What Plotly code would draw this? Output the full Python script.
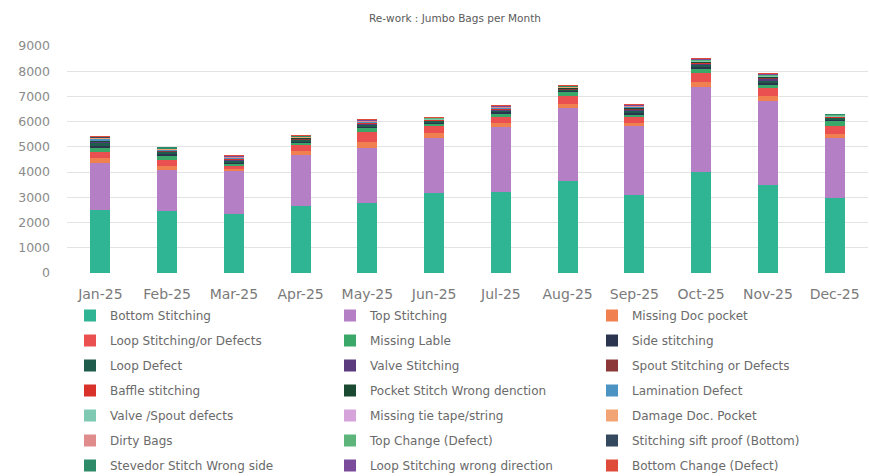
import plotly.graph_objects as go

months = ["Jan-25", "Feb-25", "Mar-25", "Apr-25", "May-25", "Jun-25",
          "Jul-25", "Aug-25", "Sep-25", "Oct-25", "Nov-25", "Dec-25"]

bottom_stitching = [2480, 2450, 2350, 2640, 2780, 3170, 3200, 3630, 3100, 3990, 3500, 2960]
top_stitching = [1900, 1640, 1700, 2040, 2170, 2180, 2580, 2900, 2710, 3380, 3300, 2390]
missing_doc_pocket = [170, 160, 80, 160, 260, 190, 170, 190, 150, 220, 210, 180]
loop_stitching_defects = [250, 250, 120, 240, 400, 290, 250, 300, 220, 330, 320, 280]
missing_lable = [180, 170, 80, 90, 150, 90, 130, 160, 120, 200, 150, 250]
side_stitching = [70, 40, 50, 40, 40, 40, 40, 20, 50, 40, 60, 10]
loop_defect = [130, 110, 80, 70, 90, 70, 90, 80, 110, 110, 100, 90]
valve_stitching = [20, 10, 30, 20, 20, 10, 20, 10, 30, 20, 60, 10]
spout_stitching = [20, 10, 20, 20, 20, 20, 20, 10, 30, 20, 40, 10]
baffle_stitching = [10, 10, 10, 10, 20, 10, 10, 10, 10, 20, 20, 10]
pocket_stitch_wrong = [40, 20, 30, 30, 30, 20, 30, 30, 50, 60, 40, 20]
lamination_defect = [60, 20, 10, 10, 10, 10, 10, 10, 10, 10, 10, 10]
valve_spout_defects = [10, 10, 10, 10, 10, 10, 10, 10, 10, 10, 10, 10]
missing_tie_tape = [10, 10, 10, 10, 10, 10, 10, 10, 10, 10, 10, 10]
damage_doc_pocket = [10, 10, 10, 10, 10, 10, 10, 10, 10, 10, 10, 10]
dirty_bags = [10, 10, 10, 10, 10, 10, 10, 10, 10, 10, 10, 10]
top_change = [20, 10, 10, 10, 10, 10, 10, 10, 10, 20, 10, 10]
sift_proof_bottom = [10, 10, 10, 10, 10, 10, 10, 10, 10, 10, 10, 10]
stevedor_wrong_side = [10, 10, 10, 10, 10, 0, 10, 10, 10, 10, 10, 10]
loop_wrong_direction = [10, 0, 10, 10, 10, 0, 10, 0, 10, 10, 10, 0]
bottom_change = [10, 0, 10, 10, 10, 10, 10, 10, 10, 10, 10, 0]

series = [
    ("Bottom Stitching", bottom_stitching, "#2fb593"),
    ("Top Stitching", top_stitching, "#b47fc4"),
    ("Missing Doc pocket", missing_doc_pocket, "#f0804f"),
    ("Loop Stitching/or Defects", loop_stitching_defects, "#ea5050"),
    ("Missing Lable", missing_lable, "#3aa868"),
    ("Side stitching", side_stitching, "#2b3550"),
    ("Loop Defect", loop_defect, "#1f5c4c"),
    ("Valve Stitching", valve_stitching, "#5c3a7e"),
    ("Spout Stitching or Defects", spout_stitching, "#8c3838"),
    ("Baffle stitching", baffle_stitching, "#d8322a"),
    ("Pocket Stitch Wrong denction", pocket_stitch_wrong, "#1b4a32"),
    ("Lamination Defect", lamination_defect, "#4b93c2"),
    ("Valve /Spout defects", valve_spout_defects, "#7fc8b2"),
    ("Missing tie tape/string", missing_tie_tape, "#d6a3da"),
    ("Damage Doc. Pocket", damage_doc_pocket, "#f2a474"),
    ("Dirty Bags", dirty_bags, "#e08c8c"),
    ("Top Change (Defect)", top_change, "#5db57c"),
    ("Stitching sift proof (Bottom)", sift_proof_bottom, "#34495e"),
    ("Stevedor Stitch Wrong side", stevedor_wrong_side, "#2e8b6a"),
    ("Loop Stitching wrong direction", loop_wrong_direction, "#7b4b9b"),
    ("Bottom Change (Defect)", bottom_change, "#e04a3a"),
]

# three legend columns, filled row by row
legend_names = ["legend", "legend2", "legend3"]

fig = go.Figure()
for i, (name, vals, color) in enumerate(series):
    fig.add_trace(go.Bar(
        x=months, y=vals, name=name,
        marker=dict(color=color, line=dict(width=0)),
        legend=legend_names[i % 3],
        legendgroup=name,
    ))

FONT = "DejaVu Sans, sans-serif"
legend_font = dict(family=FONT, size=12, color="#6a6a6a")
legend_common = dict(
    orientation="v", font=legend_font, bgcolor="rgba(0,0,0,0)",
    tracegroupgap=6, itemwidth=30, yref="container", yanchor="top",
    y=1 - 301/476, xref="container", xanchor="left", traceorder="grouped",
)

fig.update_layout(
    width=869, height=476,
    margin=dict(l=67, r=1, t=46, b=203, autoexpand=False),
    barmode="stack", bargap=0.7,
    paper_bgcolor="white", plot_bgcolor="white",
    font=dict(family=FONT, color="#7a7a7a", size=11),
    title=dict(text="Re-work : Jumbo Bags per Month", x=455/869, xref="container",
               xanchor="center", y=1 - 18/476, yanchor="middle", yref="container",
               font=dict(family=FONT, size=10.5, color="#5a5a5a")),
    legend=dict(x=70/869, **legend_common),
    legend2=dict(x=330/869, **legend_common),
    legend3=dict(x=592/869, **legend_common),
    xaxis=dict(showgrid=False, showline=False, ticks="", ticklabelstandoff=11,
               tickfont=dict(family=FONT, size=14, color="#7a7a7a")),
    yaxis=dict(range=[0, 9000], dtick=1000, tickformat="d",
               gridcolor="#e3e3e3", gridwidth=1, zeroline=False,
               showline=False, ticks="", ticklabelstandoff=16,
               tickfont=dict(family=FONT, size=12.5, color="#8a8a8a")),
)

fig.write_html("out.html")
